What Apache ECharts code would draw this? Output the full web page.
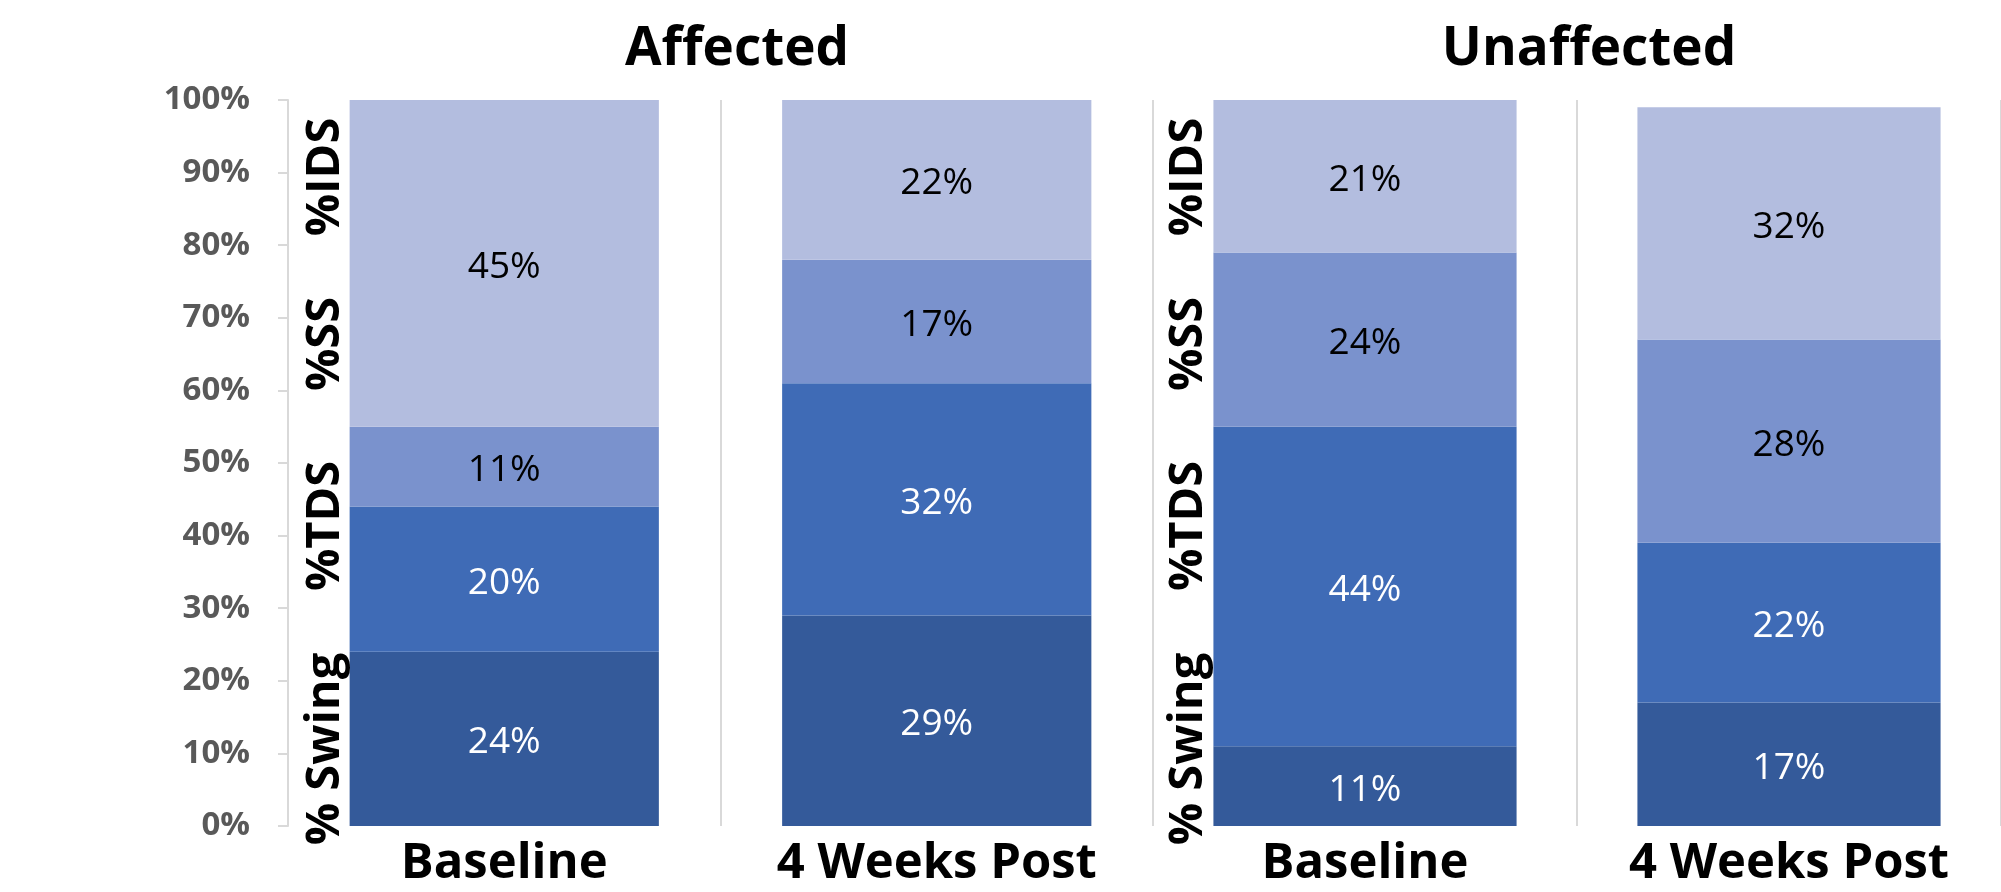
<!DOCTYPE html>
<html>
<head>
<meta charset="utf-8">
<script src="https://cdn.jsdelivr.net/npm/echarts@6/dist/echarts.min.js"></script>
<style>
html,body{margin:0;padding:0;background:#fff;}
#chart{width:2001px;height:892px;}
</style>
</head>
<body>
<div id="chart"></div>
<script>
// ---- data ----
const categories = ['Baseline', '4 Weeks Post'];
const panelTitles = ['Affected', 'Unaffected'];
const seriesNames = ['% Swing', '%TDS', '%SS', '%IDS'];
const affectedSwing = [24, 29];
const affectedTDS   = [20, 32];
const affectedSS    = [11, 17];
const affectedIDS   = [45, 22];
const unaffectedSwing = [11, 17];
const unaffectedTDS   = [44, 22];
const unaffectedSS    = [24, 28];
const unaffectedIDS   = [21, 32];
const yMin = 0, yMax = 100, yInterval = 10;

// ---- styles ----
const colors = ['#345A9A', '#3F6BB6', '#7A92CD', '#B3BDDF'];
const labelColors = ['#ffffff', '#ffffff', '#000000', '#000000'];
const panels = [
  [affectedSwing, affectedTDS, affectedSS, affectedIDS],
  [unaffectedSwing, unaffectedTDS, unaffectedSS, unaffectedIDS]
];

const chart = echarts.init(document.getElementById('chart'));

const grids = [
  {left: 288, top: 100, width: 865, height: 726},
  {left: 1153, top: 100, width: 864, height: 726}
];

const xAxes = grids.map((g, i) => ({
  type: 'category', gridIndex: i, data: categories,
  axisLine: {show: false}, axisTick: {show: false},
  splitLine: {show: true, lineStyle: {color: '#D9D9D9', width: 2}},
  axisLabel: {fontFamily: 'Open Sans', fontWeight: 'bold', fontSize: 49, color: '#000', margin: 14}
}));

const yAxes = grids.map((g, i) => ({
  type: 'value', gridIndex: i, min: yMin, max: yMax, interval: yInterval,
  axisLine: {show: i === 0, lineStyle: {color: '#D9D9D9', width: 2}},
  axisTick: {show: i === 0, length: 10, lineStyle: {color: '#D9D9D9', width: 2}},
  splitLine: {show: false},
  axisLabel: {show: i === 0, formatter: '{value}%', fontFamily: 'Open Sans', fontWeight: 'bold',
              fontSize: 33, color: '#595959', margin: 38}
}));

const series = [];
panels.forEach((vals, p) => {
  vals.forEach((arr, k) => {
    series.push({
      type: 'bar', name: seriesNames[k], stack: 'panel' + p,
      xAxisIndex: p, yAxisIndex: p, data: arr,
      barCategoryGap: '28.5%',
      itemStyle: {color: colors[k]},
      label: {show: true, position: 'inside', formatter: '{c}%', offset: [0, 4],
              fontFamily: 'Open Sans', fontSize: 37, color: labelColors[k]}
    });
  });
});

const titleCenters = [732, 1584];
const titles = panelTitles.map((t, i) => ({
  text: t, left: titleCenters[i], top: 18, textAlign: 'center',
  textStyle: {fontFamily: 'Open Sans', fontWeight: 'bold', fontSize: 53, color: '#000'}
}));

// rotated side labels (centres along the axis)
const sideY = [749, 526, 344, 177];
const sideX = [326, 1189];
const graphics = [];
sideX.forEach(x => {
  seriesNames.forEach((n, k) => {
    graphics.push({
      type: 'text', x: x, y: sideY[k], rotation: Math.PI / 2,
      style: {text: n, fontFamily: 'Open Sans', fontWeight: 'bold', fontSize: 47,
              fill: '#000', align: 'center', verticalAlign: 'middle'},
      z: 10
    });
  });
});

chart.setOption({
  animation: false,
  backgroundColor: '#fff',
  title: titles,
  grid: grids,
  xAxis: xAxes,
  yAxis: yAxes,
  series: series,
  graphic: graphics
});
</script>
</body>
</html>
